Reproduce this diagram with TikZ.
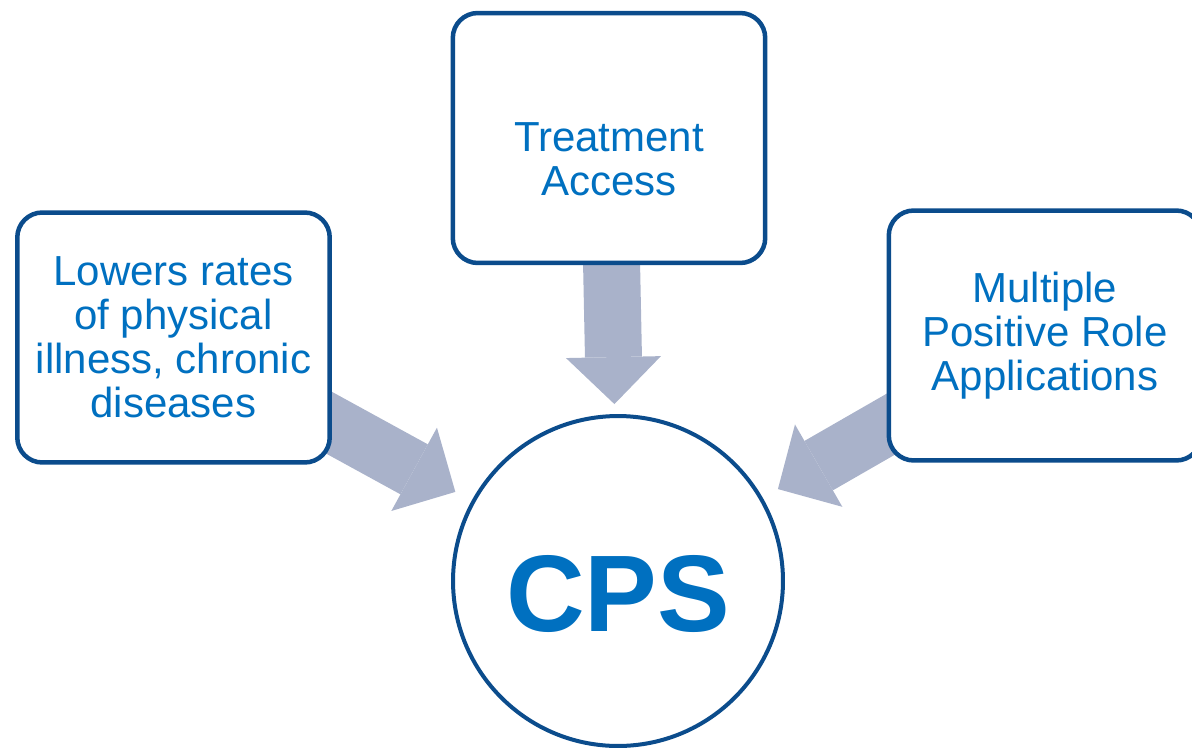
\documentclass[tikz,border=0pt]{standalone}
\usepackage{fontspec}
\setmainfont{Liberation Sans}
\usetikzlibrary{arrows.meta}
\usetikzlibrary{backgrounds}

\definecolor{edgeblue}{HTML}{0B4C8C}
\definecolor{textblue}{HTML}{0070C0}
\definecolor{arrowgray}{HTML}{A9B2CA}

\tikzset{
  box/.style={rectangle, rounded corners=0.5cm, draw=edgeblue, line width=0.09cm,
    fill=white, minimum width=6.25cm, minimum height=5cm, text=textblue,
    align=center, font=\fontsize{23.9}{25}\selectfont},
  boxtext/.style={text=textblue, align=center, font=\fontsize{23.9}{25}\selectfont},
  hub/.style={circle, draw=edgeblue, line width=0.08cm, fill=white,
    minimum size=6.6cm, inner sep=0pt},
  hubtext/.style={text=textblue, font=\fontsize{62}{70}\selectfont\bfseries},
  fat/.style={draw=arrowgray, line width=1.14cm,
    -{Triangle[length=0.94cm, width=1.9cm, line width=0pt]}},
}

\begin{document}
\begin{tikzpicture}[x=0.02cm, y=-0.02cm]
\useasboundingbox (0,0) rectangle (1192,750);
\node [box] (L) at (173.5, 337.5) {Lowers rates\\of physical\\illness, chronic\\diseases};
\node [box] (T) at (609, 138) {};
\node [box] (R) at (1045, 335.5) {Multiple\\Positive Role\\Applications};
\node [hub] (C) at (618, 581) {};
\node [boxtext] (Tt) at (609, 159) {Treatment\\Access};
\node [hubtext] (Ct) at (618, 594) {CPS};
% fat arrows run from the box centres, under the white boxes
\begin{scope}[on background layer]
\draw [fat, shorten >=0.37cm] (L.center) to (C);
\draw [fat, shorten >=0.2cm] (T.center) to (C);
\draw [fat, shorten >=0.35cm] (R.center) to (C);
\end{scope}
\end{tikzpicture}
\end{document}
